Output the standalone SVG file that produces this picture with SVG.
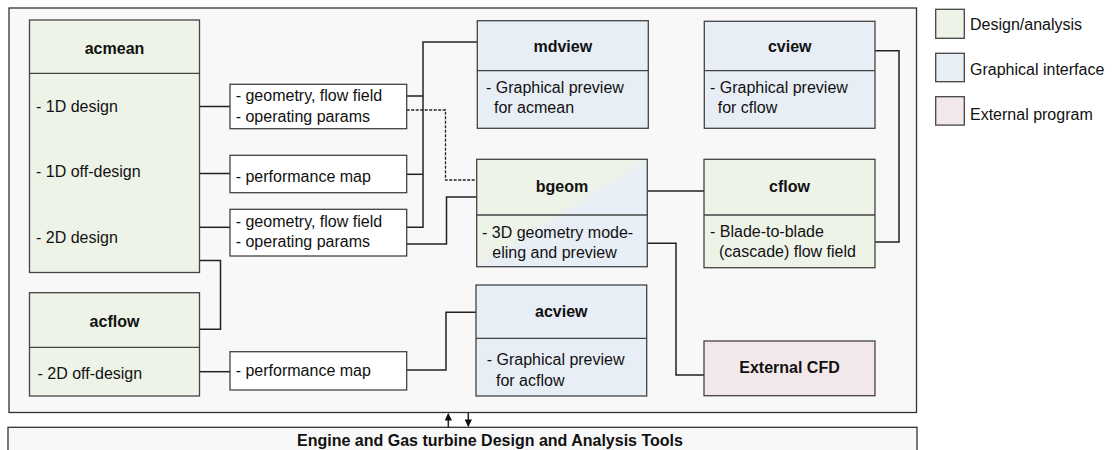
<svg xmlns="http://www.w3.org/2000/svg" width="1112" height="450" viewBox="0 0 1112 450">
  <style>
    text { font-family: "Liberation Sans", Arial, sans-serif; font-size: 16px; fill: #111; }
    .title { font-weight: bold; text-anchor: middle; }
    .box { stroke: #444; stroke-width: 1.3; }
    .design { fill: #eef3e8; }
    .gui { fill: #e8eef5; }
    .ext { fill: #f3e8e9; }
    .plain { fill: #ffffff; }
    .div { stroke: #444; stroke-width: 1.3; fill: none; }
    .wire { stroke: #222; stroke-width: 1.5; fill: none; }
    .dash { stroke: #222; stroke-width: 1.3; fill: none; stroke-dasharray: 3 1.5; }
  </style>
  <defs>
    <linearGradient id="mixFill" x1="0" y1="0" x2="1" y2="1">
      <stop offset="0.47" stop-color="#eef3e8"/>
      <stop offset="0.53" stop-color="#e8eef5"/>
    </linearGradient>
    <marker id="tip" viewBox="0 0 8 8" refX="7" refY="4" markerWidth="5" markerHeight="5" orient="auto">
      <path d="M0,0 L8,4 L0,8 z" fill="#111"/>
    </marker>
  </defs>

  <rect width="1112" height="450" fill="#ffffff"/>

  <!-- container frame and tool bar -->
  <rect x="9" y="8" width="907.5" height="404.5" fill="#f8f8f8" stroke="#333" stroke-width="1.3"/>
  <rect x="8" y="427.3" width="909" height="30" fill="#f8f8f8" stroke="#333" stroke-width="1.3"/>
  <text class="title" x="490" y="446">Engine and Gas turbine Design and Analysis Tools</text>

  <!-- connectors -->
  <g id="connectors">
    <line class="wire" x1="199.5" y1="106.5" x2="230" y2="106.5"/>
    <line class="wire" x1="199.5" y1="173.5" x2="230" y2="173.5"/>
    <line class="wire" x1="199.5" y1="227.3" x2="230" y2="227.3"/>
    <polyline class="wire" points="199.5,260.5 220.5,260.5 220.5,329.3 199.5,329.3"/>
    <line class="wire" x1="199.5" y1="371.7" x2="230" y2="371.7"/>
    <!-- bus to mdview -->
    <polyline class="wire" points="477.3,42 423,42 423,227.3 406.7,227.3"/>
    <line class="wire" x1="406.7" y1="96" x2="423" y2="96"/>
    <line class="wire" x1="406.7" y1="174.3" x2="423" y2="174.3"/>
    <!-- links to bgeom -->
    <polyline class="dash" points="406.7,110 445.5,110 445.5,180 476.7,180"/>
    <polyline class="wire" points="406.7,244 446.5,244 446.5,197 476.7,197"/>
    <!-- link to acview -->
    <polyline class="wire" points="406.7,370 446,370 446,312.3 476,312.3"/>
    <!-- bgeom to cflow / external CFD -->
    <line class="wire" x1="647.3" y1="191" x2="704" y2="191"/>
    <polyline class="wire" points="647.3,243.3 676,243.3 676,375 704,375"/>
    <!-- cflow to cview -->
    <polyline class="wire" points="875,50.7 899,50.7 899,242 875,242"/>
    <!-- data exchange with the tool bar -->
    <line class="wire" x1="448.3" y1="427.3" x2="448.3" y2="414" stroke-width="1.2" marker-end="url(#tip)"/>
    <line class="wire" x1="468.3" y1="412.5" x2="468.3" y2="426" stroke-width="1.2" marker-end="url(#tip)"/>
  </g>

  <g id="acmean">
    <rect class="box design" x="29.5" y="20" width="170" height="252.5"/>
    <line class="div" x1="29.5" y1="73.3" x2="199.5" y2="73.3"/>
    <text class="title" x="114.5" y="54">acmean</text>
    <text x="36" y="111.5">- 1D design</text>
    <text x="36" y="176.7">- 1D off-design</text>
    <text x="36" y="242.7">- 2D design</text>
  </g>

  <g id="acflow">
    <rect class="box design" x="29.5" y="292.7" width="170" height="103.3"/>
    <line class="div" x1="29.5" y1="347.3" x2="199.5" y2="347.3"/>
    <text class="title" x="114.5" y="327.3">acflow</text>
    <text x="37.5" y="379">- 2D off-design</text>
  </g>

  <g id="data-1d-design">
    <rect class="box plain" x="230" y="84.3" width="176.7" height="44.4"/>
    <text x="235.7" y="101">- geometry, flow field</text>
    <text x="235.7" y="121.7">- operating params</text>
  </g>

  <g id="data-1d-offdesign">
    <rect class="box plain" x="230" y="155.3" width="176.7" height="37.4"/>
    <text x="235.7" y="181.7">- performance map</text>
  </g>

  <g id="data-2d-design">
    <rect class="box plain" x="230" y="209.3" width="176.7" height="46.7"/>
    <text x="235.7" y="226.7">- geometry, flow field</text>
    <text x="235.7" y="246.7">- operating params</text>
  </g>

  <g id="data-2d-offdesign">
    <rect class="box plain" x="230" y="351.7" width="176.7" height="38.3"/>
    <text x="235.7" y="375.7">- performance map</text>
  </g>

  <g id="mdview">
    <rect class="box gui" x="477.3" y="20.7" width="171" height="107.6"/>
    <line class="div" x1="477.3" y1="70.7" x2="648.3" y2="70.7"/>
    <text class="title" x="562.8" y="51.7">mdview</text>
    <text x="486" y="93.3">- Graphical preview</text>
    <text x="494" y="113.3">for acmean</text>
  </g>

  <g id="cview">
    <rect class="box gui" x="704.3" y="21.3" width="170.7" height="107"/>
    <line class="div" x1="704.3" y1="70.7" x2="875" y2="70.7"/>
    <text class="title" x="789.7" y="51.7">cview</text>
    <text x="710" y="93.3">- Graphical preview</text>
    <text x="717.7" y="113.3">for cflow</text>
  </g>

  <g id="bgeom">
    <rect class="box" fill="url(#mixFill)" x="476.7" y="159.3" width="170.6" height="107.4"/>
    <line class="div" x1="476.7" y1="215" x2="647.3" y2="215"/>
    <text class="title" x="562" y="191.7">bgeom</text>
    <text x="482" y="238.3">- 3D geometry mode-</text>
    <text x="492.3" y="258">eling and preview</text>
  </g>

  <g id="cflow">
    <rect class="box design" x="704" y="159.3" width="171" height="108.4"/>
    <line class="div" x1="704" y1="215" x2="875" y2="215"/>
    <text class="title" x="789.5" y="191.7">cflow</text>
    <text x="710" y="237.3">- Blade-to-blade</text>
    <text x="719" y="257.3">(cascade) flow field</text>
  </g>

  <g id="acview">
    <rect class="box gui" x="476" y="285" width="170.7" height="111"/>
    <line class="div" x1="476" y1="338.3" x2="646.7" y2="338.3"/>
    <text class="title" x="561.3" y="316.7">acview</text>
    <text x="486.7" y="365">- Graphical preview</text>
    <text x="496" y="385.7">for acflow</text>
  </g>

  <g id="external-cfd">
    <rect class="box ext" x="704" y="341" width="171" height="54.7"/>
    <text class="title" x="789.5" y="373.3">External CFD</text>
  </g>

  <g id="legend">
    <rect class="box design" x="935.7" y="9.3" width="28.6" height="29"/>
    <text x="970" y="29.7">Design/analysis</text>
    <rect class="box gui" x="935.7" y="53.3" width="28.6" height="28.4"/>
    <text x="970" y="75.3">Graphical interface</text>
    <rect class="box ext" x="935.7" y="96.7" width="28.6" height="28.4"/>
    <text x="970" y="120">External program</text>
  </g>
</svg>
